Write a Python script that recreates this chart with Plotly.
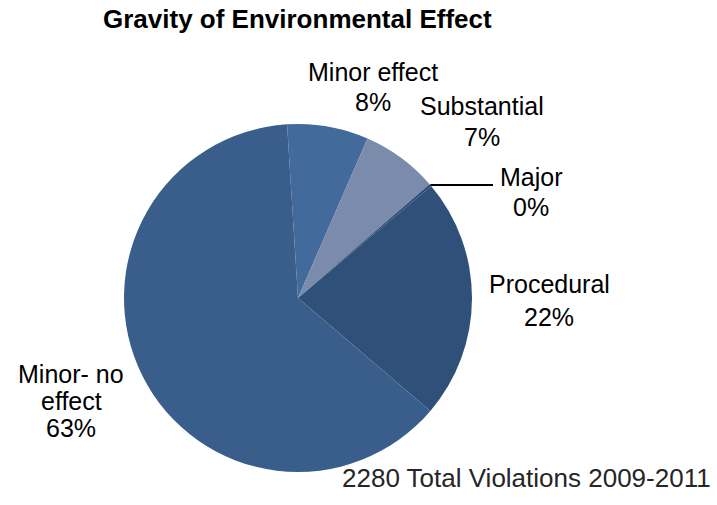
import math
import plotly.graph_objects as go

# Data
categories = ["Minor effect", "Substantial", "Major", "Procedural", "Minor- no effect"]
counts = [172, 162, 5, 510, 1431]
label_lines = [["Minor effect"], ["Substantial"], ["Major"], ["Procedural"], ["Minor- no", "effect"]]
colors = ["#426a9b", "#7b8bab", "#2b4a70", "#2f5179", "#3a5e8b"]
title_text = "Gravity of Environmental Effect"
footnote_text = "2280 Total Violations 2009-2011"

W, H = 717, 505
cx, cy, r = 298, 298, 174
rotation = -3.6

total = sum(counts)
pcts = [c / total for c in counts]

fig = go.Figure(go.Pie(
    labels=categories,
    values=counts,
    sort=False,
    direction="clockwise",
    rotation=rotation,
    textinfo="none",
    marker=dict(colors=colors, line=dict(width=0)),
    domain=dict(x=[(cx - r) / W, (cx + r) / W], y=[1 - (cy + r) / H, 1 - (cy - r) / H]),
    showlegend=False,
    hoverinfo="label+percent",
))

# label placements: (centre x, first-line y, line step) in pixels
label_pos = [(373, 72, 30), (482, 106, 31), (531, 177, 30), (549, 284, 33), (71, 374, 27)]

FAM = "Liberation Sans, Arial, sans-serif"
annotations = []
font = dict(family=FAM, size=25, color="#000000")
for lines, p, (px, py, step) in zip(label_lines, pcts, label_pos):
    all_lines = lines + [f"{round(p * 100):.0f}%"]
    for k, ln in enumerate(all_lines):
        annotations.append(dict(
            x=px / W, y=1 - (py + k * step) / H, xref="paper", yref="paper",
            text=ln, showarrow=False,
            xanchor="center", yanchor="middle", align="center", font=font,
        ))

annotations.append(dict(
    x=297 / W, y=1 - 19 / H, xref="paper", yref="paper", text=f"<b>{title_text}</b>",
    showarrow=False, xanchor="center", yanchor="middle",
    font=dict(family=FAM, size=26, color="#000000"),
))
annotations.append(dict(
    x=713 / W, y=1 - 478 / H, xref="paper", yref="paper", text=footnote_text,
    showarrow=False, xanchor="right", yanchor="middle",
    font=dict(family=FAM, size=26, color="#262626"),
))

# leader line for the "Major" slice, starting from the slice mid-angle on the rim
cum = rotation
for i, c in enumerate(counts):
    span = 360 * c / total
    if categories[i] == "Major":
        mid = math.radians(cum + span / 2)
        break
    cum += span
x0 = cx + r * math.sin(mid)
y0 = cy - r * math.cos(mid)
shapes = [dict(type="line", xref="paper", yref="paper",
               x0=x0 / W, y0=1 - y0 / H, x1=493 / W, y1=1 - y0 / H,
               line=dict(color="#000000", width=2))]

fig.update_layout(
    width=W, height=H,
    margin=dict(l=0, r=0, t=0, b=0),
    paper_bgcolor="white",
    plot_bgcolor="white",
    annotations=annotations,
    shapes=shapes,
)

fig.write_html(
    "out.html",
    config={"displayModeBar": False},
    post_script="document.body.style.margin='0';document.body.style.overflow='hidden';",
)
